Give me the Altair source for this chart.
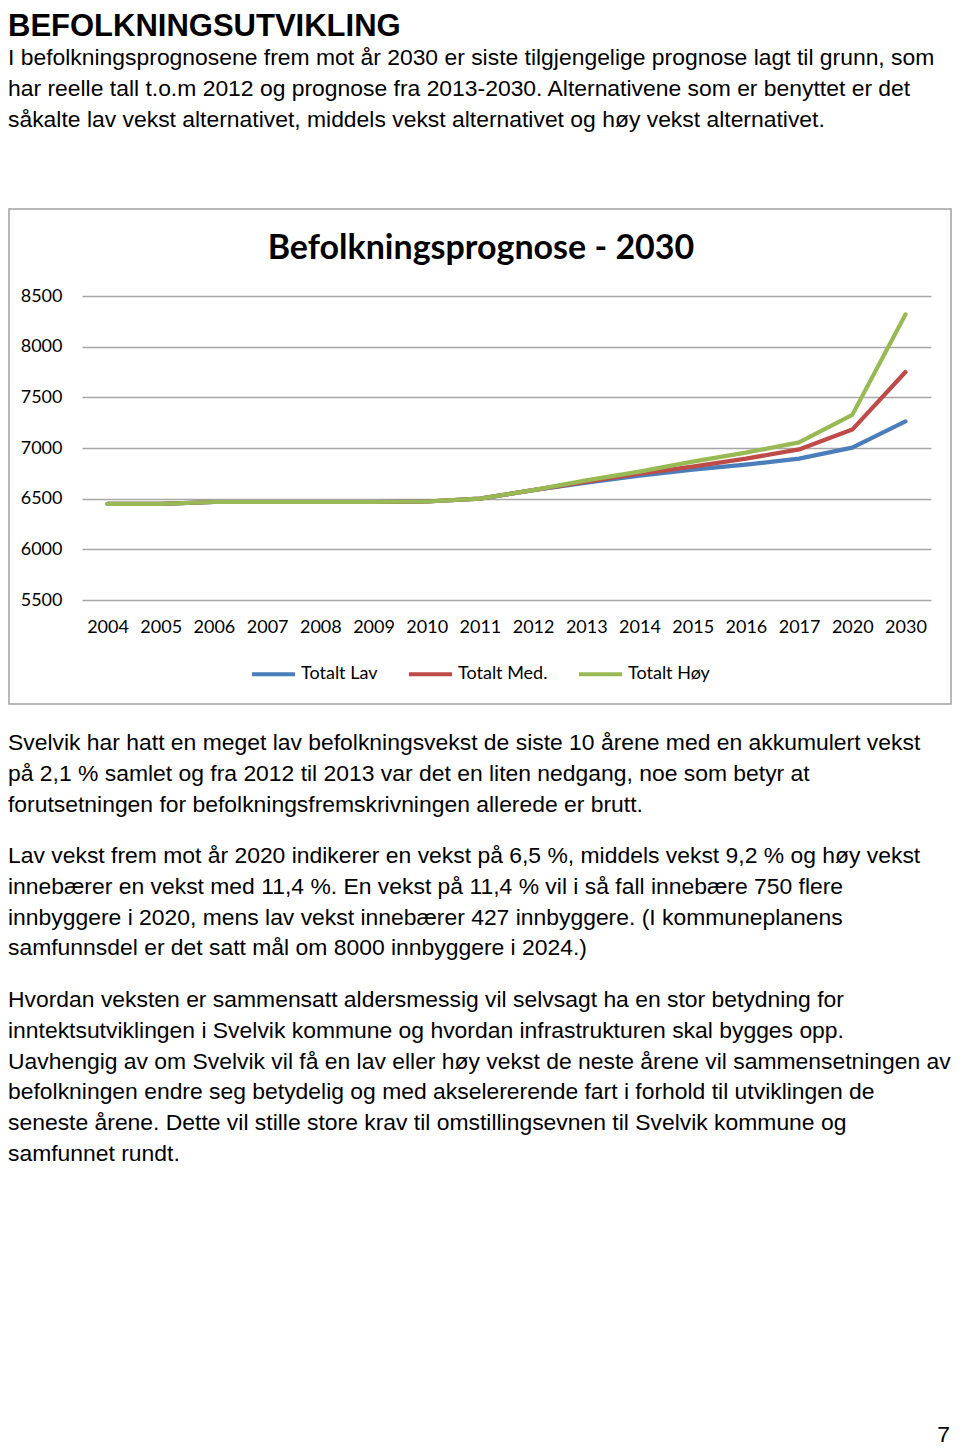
import altair as alt
import pandas as pd

# ---- data ----
years = ["2004", "2005", "2006", "2007", "2008", "2009", "2010", "2011",
         "2012", "2013", "2014", "2015", "2016", "2017", "2020", "2030"]
lav = [6448, 6448, 6467, 6467, 6467, 6467, 6472, 6500,
       6585, 6658, 6727, 6786, 6836, 6895, 7004, 7262]
med = [6448, 6448, 6467, 6467, 6467, 6467, 6472, 6500,
       6585, 6668, 6747, 6816, 6895, 6986, 7182, 7750]
hoy = [6448, 6448, 6467, 6467, 6467, 6467, 6472, 6500,
       6585, 6680, 6767, 6865, 6954, 7055, 7327, 8318]
series_names = ["Totalt Lav", "Totalt Med.", "Totalt Høy"]
series_colors = ["#4a7ebb", "#be4b48", "#98b954"]
y_ticks = [5500, 6000, 6500, 7000, 7500, 8000, 8500]

page_title = "BEFOLKNINGSUTVIKLING"
chart_title = "Befolkningsprognose - 2030"
para1 = [
    "I befolkningsprognosene frem mot år 2030 er siste tilgjengelige prognose lagt til grunn, som",
    "har reelle tall t.o.m 2012 og prognose fra 2013-2030. Alternativene som er benyttet er det",
    "såkalte lav vekst alternativet, middels vekst alternativet og høy vekst alternativet.",
]
para2 = [
    "Svelvik har hatt en meget lav befolkningsvekst de siste 10 årene med en akkumulert vekst",
    "på 2,1 % samlet og fra 2012 til 2013 var det en liten nedgang, noe som betyr at",
    "forutsetningen for befolkningsfremskrivningen allerede er brutt.",
]
para3 = [
    "Lav vekst frem mot år 2020 indikerer en vekst på 6,5 %, middels vekst 9,2 % og høy vekst",
    "innebærer en vekst med 11,4 %. En vekst på 11,4 % vil i så fall innebære 750 flere",
    "innbyggere i 2020, mens lav vekst innebærer 427 innbyggere. (I kommuneplanens",
    "samfunnsdel er det satt mål om 8000 innbyggere i 2024.)",
]
para4 = [
    "Hvordan veksten er sammensatt aldersmessig vil selvsagt ha en stor betydning for",
    "inntektsutviklingen i Svelvik kommune og hvordan infrastrukturen skal bygges opp.",
    "Uavhengig av om Svelvik vil få en lav eller høy vekst de neste årene vil sammensetningen av",
    "befolkningen endre seg betydelig og med akselererende fart i forhold til utviklingen de",
    "seneste årene. Dette vil stille store krav til omstillingsevnen til Svelvik kommune og",
    "samfunnet rundt.",
]
page_number = "7"

# ---- layout (page coordinates -> plot coordinates) ----
PLOT_LEFT, PLOT_TOP = 82, 296
PLOT_W, PLOT_H = 849, 304
TOTAL_W, TOTAL_H = 944, 1440


def px(x):
    return x - PLOT_LEFT


def py(y):
    return y - PLOT_TOP


rows = []
for name, vals in zip(series_names, [lav, med, hoy]):
    for yr, v in zip(years, vals):
        rows.append({"year": yr, "value": v, "series": name})
df = pd.DataFrame(rows)

color = alt.Color(
    "series:N",
    scale=alt.Scale(domain=series_names, range=series_colors),
    sort=series_names,
    legend=alt.Legend(
        title=None, orient="none", direction="horizontal",
        legendX=px(250), legendY=py(650.5),
        symbolType="stroke", symbolSize=1849, symbolStrokeWidth=4,
        labelFont="Lato", labelFontSize=18, labelColor="black",
        labelOffset=4, columnPadding=23, padding=0,
    ),
)

x_enc = alt.X(
    "year:O", sort=years, title=None,
    scale=alt.Scale(padding=0.48),
    axis=alt.Axis(labelAngle=0, domain=False, ticks=False, labelPadding=18,
                  labelFont="Lato", labelFontSize=18, labelColor="black"),
)
y_enc = alt.Y(
    "value:Q", title=None,
    scale=alt.Scale(domain=[5500, 8500], nice=False, zero=False),
    axis=alt.Axis(values=y_ticks, format="d", domain=False, ticks=False,
                  labelPadding=20, labelFont="Lato", labelFontSize=18,
                  labelColor="black", grid=True, gridColor="#a6a6a6",
                  gridWidth=1.6),
)

lines = []
for name in series_names:
    lines.append(
        alt.Chart(df).transform_filter(alt.datum.series == name)
        .mark_line(strokeWidth=4.2, strokeJoin="round", strokeCap="round")
        .encode(x=x_enc, y=y_enc, color=color)
    )

one_row = pd.DataFrame({"k": [0]})
layers = []

# chart frame
layers.append(
    alt.Chart(one_row).mark_rect(fill=None, stroke="#a0a0a0", strokeWidth=1.5)
    .encode(x=alt.value(px(9)), x2=alt.value(px(951)),
            y=alt.value(py(209)), y2=alt.value(py(704)))
)
layers += lines


def text_layer(txt, x, y, font="Liberation Sans", size=22.9, bold=False,
               align="left"):
    return alt.Chart(pd.DataFrame({"line": [txt]})).mark_text(
        font=font, fontSize=size,
        fontWeight="bold" if bold else "normal", align=align,
        baseline="alphabetic", color="black",
    ).encode(text="line:N", x=alt.value(px(x)), y=alt.value(py(y)))


layers.append(text_layer(page_title, 8, 36, size=31, bold=True))
layers.append(text_layer(chart_title, 481, 259, font="Lato", size=34,
                         bold=True, align="center"))

LH = 30.8
for i, line in enumerate(para1):
    layers.append(text_layer(line, 8, 65 + i * LH))
for i, line in enumerate(para2):
    layers.append(text_layer(line, 8, 750 + i * LH))
for i, line in enumerate(para3):
    layers.append(text_layer(line, 8, 863 + i * LH))
for i, line in enumerate(para4):
    layers.append(text_layer(line, 8, 1007 + i * LH))
layers.append(text_layer(page_number, 950, 1442, align="right"))

chart = alt.layer(*layers).properties(
    width=PLOT_W, height=PLOT_H,
    autosize=alt.AutoSizeParams(type="none"),
    padding={"left": PLOT_LEFT - 8, "top": PLOT_TOP - 8,
             "right": TOTAL_W - (PLOT_LEFT - 8) - PLOT_W,
             "bottom": TOTAL_H - (PLOT_TOP - 8) - PLOT_H},
).configure_view(stroke=None)

chart.save("out.html", embed_options={"renderer": "svg", "actions": False})
